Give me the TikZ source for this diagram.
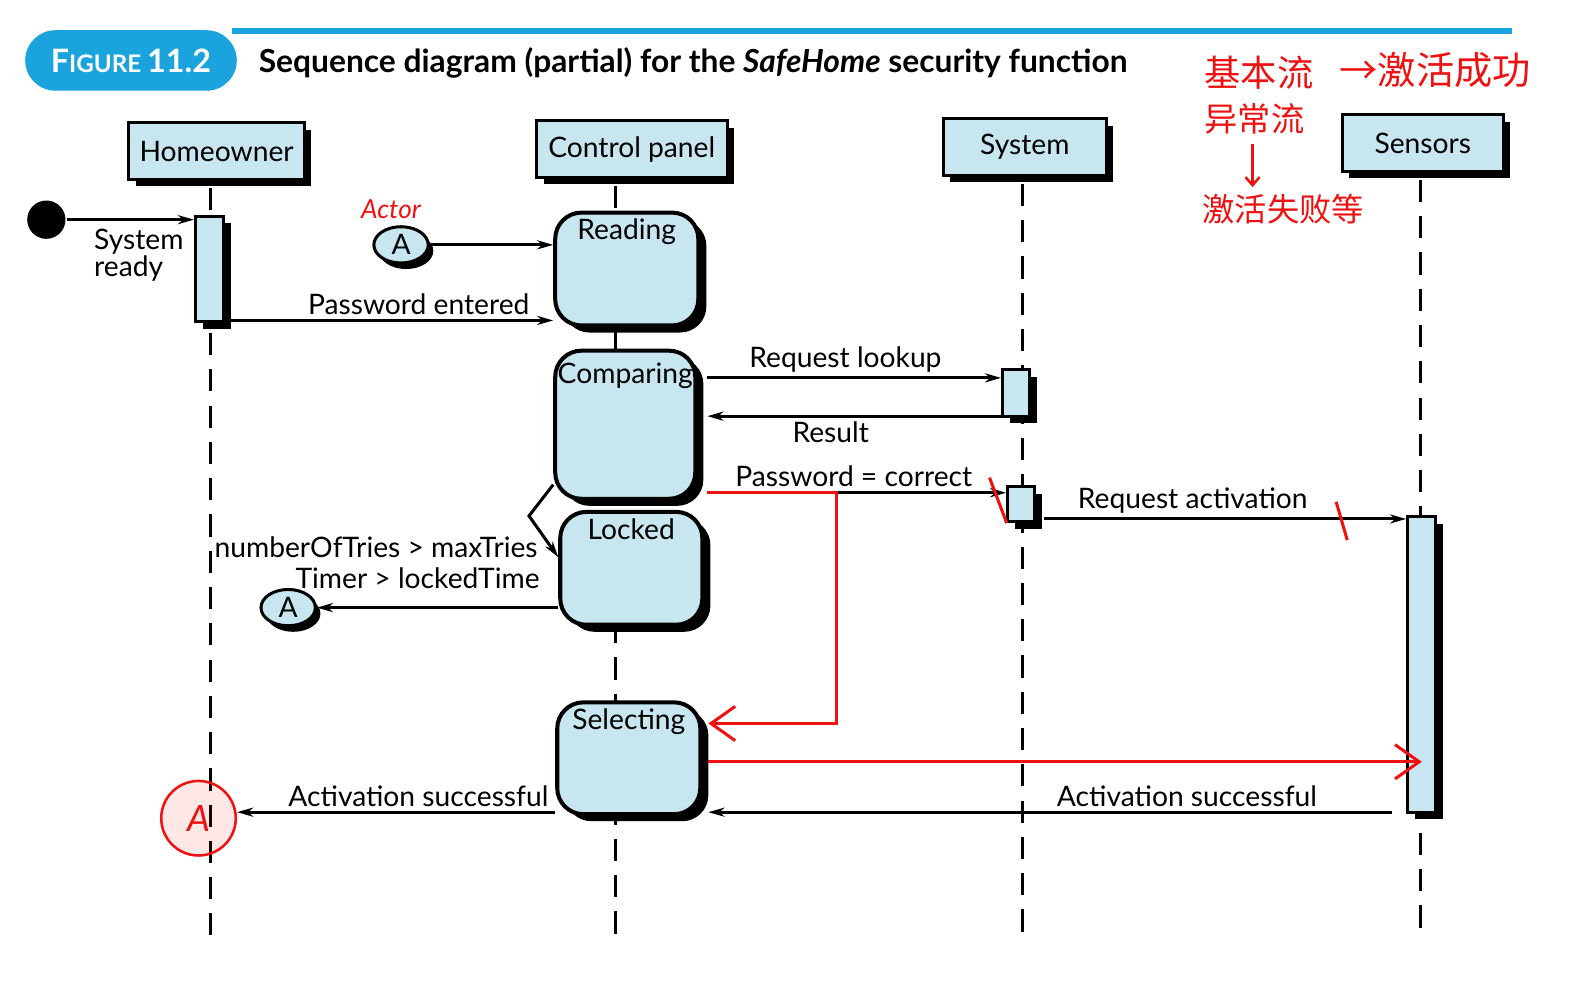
\documentclass[tikz,border=0pt]{standalone}
\usepackage{fontspec}
\setmainfont{Lato}
\newfontfamily\cjk{Noto Sans CJK SC}
\usetikzlibrary{arrows.meta, positioning, shapes.geometric, calc, shadows}
\definecolor{cblue}{HTML}{1AA3DC}
\definecolor{cfill}{HTML}{C8E6EF}
\definecolor{cred}{HTML}{EE1111}
\tikzset{
  every picture/.style={line width=3pt},
  hdr/.style={draw, fill=cfill, line width=3pt, minimum height=56pt,
    drop shadow={shadow xshift=7pt, shadow yshift=-7pt, fill=black, opacity=1}},
  bar/.style={draw, fill=cfill, line width=3pt, minimum width=28pt, inner sep=0pt,
    drop shadow={shadow xshift=7pt, shadow yshift=-7pt, fill=black, opacity=1}},
  state/.style={draw, fill=cfill, rounded corners=26pt, line width=4pt,
    minimum width=142pt, minimum height=112pt,
    drop shadow={shadow xshift=8pt, shadow yshift=-7pt, fill=black, opacity=1}},
  stlbl/.style={anchor=north, inner sep=2pt, yshift=-5pt},
  conn/.style={ellipse, draw, fill=cfill, line width=3pt, minimum width=54pt, minimum height=36pt, inner sep=0pt,
    drop shadow={shadow xshift=5pt, shadow yshift=-6pt, fill=black, opacity=1}},
  dot/.style={circle, fill=black, minimum size=38pt, inner sep=0pt},
  life/.style={dash pattern=on 22pt off 14pt, line width=3pt},
  msg/.style={-{Stealth[length=16pt, width=9pt]}, line width=3pt},
  lbl/.style={inner sep=4pt},
  pill/.style={fill=cblue, text=white, rounded corners=30pt, minimum width=210pt, minimum height=60pt, font=\bfseries},
  title/.style={font=\fontsize{31.5}{34}\selectfont\bfseries},
  redln/.style={draw=cred, line width=3pt},
  redtip/.style={-{Straight Barb[length=24pt, width=34pt]}},
  cn/.style={text=cred, inner sep=0pt},
}

\begin{document}
\begin{tikzpicture}[x=1pt, y=-1pt, font=\fontsize{28}{30}\selectfont]
  \useasboundingbox (0,0) rectangle (1568,992);
  % title
  \fill[cblue] (230,28) rectangle (1500,34);
  \node[pill] (fig) at (130,60) {\fontsize{32}{34}\selectfont F\fontsize{24}{26}\selectfont IGURE \fontsize{32}{34}\selectfont 11.2};
  \node[title, anchor=west] (ttl) at (252,62) {Sequence diagram (partial) for the \textit{SafeHome} security function};
  % lifeline heads
  \node[hdr, minimum width=174pt] (home) at (215,150) {Homeowner};
  \node[hdr, minimum width=189pt] (ctrl) at (627,148) {Control panel};
  \node[hdr, minimum width=162pt] (sys) at (1017,146) {System};
  \node[hdr, minimum width=160pt] (sens) at (1412,142) {Sensors};
  % lifelines
  \coordinate (homeL) at (209,928);
  \coordinate (ctrlL) at (611,928);
  \coordinate (sysL) at (1015,928);
  \coordinate (sensL) at (1410,928);
  \draw[life] ([yshift=-7pt]home.south -| homeL) -- (homeL);
  \draw[life] ([yshift=-7pt]ctrl.south -| ctrlL) -- (ctrlL);
  \draw[life] ([yshift=-7pt]sys.south -| sysL) -- (sysL);
  \draw[life] ([yshift=-7pt]sens.south -| sensL) -- (sensL);
  % activation bars
  \node[bar, minimum height=105pt] (hbar) at (208,267) {};
  \node[bar, minimum width=27pt, minimum height=46pt] (sbar1) at (1008.5,390) {};
  \node[bar, minimum width=27pt, minimum height=35pt] (sbar2) at (1013.5,500.5) {};
  \node[bar, minimum height=293pt] (nbar) at (1411,659.5) {};
  % states
  \node[state, label={[stlbl]north:Reading}] (read) at (622,267) {};
  \node[state, minimum width=139pt, minimum height=147pt, label={[stlbl, yshift=-6pt]north:Comparing}] (comp) at (620.5,421.5) {};
  \node[state, minimum width=141pt, label={[stlbl]north:Locked}] (lock) at (626.5,564) {};
  \node[state, minimum height=111pt, label={[stlbl]north:Selecting}] (sel) at (624,752.5) {};
  \coordinate (compR) at ([xshift=10pt]comp.east);
  \coordinate (selR) at ([xshift=6pt]sel.east);
  \coordinate (sbar2R) at ([xshift=8pt]sbar2.east);
  \coordinate (nbarL) at ([xshift=-14pt]nbar.west);
  % connectors A
  \node[conn] (a1) at (398,243) {A};
  \node[conn] (a2) at (286,603) {A};
  \node[dot] (start) at (46,218) {};
  \node[lbl, anchor=west, align=left, font=\fontsize{28}{25}\selectfont] (rdy) at (88,253) {System\\ready};
  % messages
  \draw[msg] (start) -- (start -| hbar.west);
  \draw[msg] (a1) -- (a1 -| read.west);
  \draw[msg] (hbar.east |- 0,318) -- (read.west |- 0,318) node[lbl, above, pos=.59] (m1) {Password entered};
  \draw[msg] (compR |- 0,375) -- (sbar1.west |- 0,375) node[lbl, above, pos=.47] (m2) {Request lookup};
  \draw[msg] (sbar1.west |- 0,413) -- (compR |- 0,413) node[lbl, below, pos=.58] (m3) {Result};
  \draw[msg] (compR |- 0,489) -- (sbar2.west |- 0,489) node[lbl, above, pos=.49] (m4) {Password = correct};
  \draw[msg] (sbar2R |- 0,515) -- (nbar.west |- 0,515) node[lbl, above, pos=.41] (m5) {Request activation};
  \coordinate (bend) at (525,512);
  \draw[msg] (comp.west |- 0,481) -- (bend) -- (lock.west |- 0,553);
  \node[lbl, anchor=east] (g1) at (539,543) {numberOfTries > maxTries};
  \node[lbl, anchor=east] (g2) at (541,574) {Timer > lockedTime};
  \draw[msg] (lock.west |- a2) -- (a2.east);
  % red notes
  \node[circle, draw=cred, line width=2.5pt, fill=cred, fill opacity=.1, text opacity=1, text=cred, minimum size=74pt, inner sep=0pt, font=\fontsize{36}{36}\selectfont\itshape] (redA) at (197,812) {A};
  \draw[msg] (nbarL |- 0,806) -- (selR |- 0,806) node[lbl, above, pos=.30] (m6) {Activation successful};
  \draw[msg] (sel.west |- 0,806) -- (redA.east |- 0,806) node[lbl, above, pos=.43] (m7) {Activation successful};
  \coordinate (rc1) at (830,489);
  \coordinate (rc2) at (830,718);
  \draw[redln, redtip] (compR |- 0,489) -- (rc1) -- (rc2) -- (selR |- rc2);
  \draw[redln, redtip] (selR |- 0,756) -- (nbar.center |- 0,756);
  \draw[redln] (982,474) -- (999,519);
  \draw[redln] (1326,498) -- (1337,536);
  \node[cn, font=\fontsize{26}{26}\selectfont\itshape] (actor) at (388,208) {Actor};
  \node[cn, anchor=west, font=\fontsize{36}{36}\cjk] (cn1) at (1194,72) {基本流};
  \node[cn, anchor=west, font=\fontsize{38}{38}\cjk] (cn2) at (1328,70) {→激活成功};
  \node[cn, anchor=west, font=\fontsize{33}{33}\cjk] (cn3) at (1194,118) {异常流};
  \node[cn, anchor=west, font=\fontsize{32}{32}\cjk] (cn4) at (1192,208) {激活失败等};
  \draw[redln, line width=2.5pt, -{Straight Barb[length=8pt, width=14pt]}] ([yshift=-8pt]cn3.south -| 1243,0) -- ([yshift=6pt]cn4.north -| 1243,0);
\end{tikzpicture}
\end{document}
